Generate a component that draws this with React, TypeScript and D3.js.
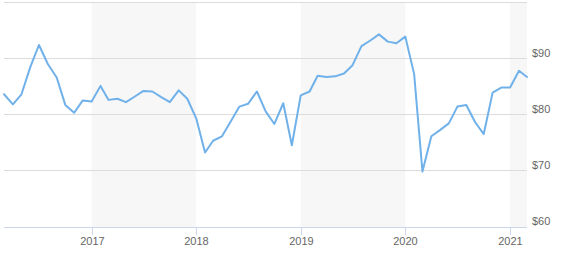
import React from "react";
import * as d3 from "d3";

// Monthly closing prices, March 2016 – March 2021
const startYear = 2016;
const startMonth = 2; // March (0-based)
const prices = [
  83.7, 81.9, 83.7, 88.6, 92.5, 89.1, 86.7, 81.8, 80.4, 82.6,
  82.4, 85.2, 82.7, 82.9, 82.3, 83.3, 84.3, 84.2, 83.2, 82.3, 84.4, 82.9,
  79.4, 73.3, 75.4, 76.2, 78.8, 81.5, 82.0, 84.2, 80.6, 78.4, 82.1, 74.6,
  83.5, 84.2, 87.0, 86.8, 86.9, 87.4, 88.9, 92.3, 93.3, 94.4, 93.1, 92.8,
  94.0, 87.3, 69.9, 76.2, 77.3, 78.5, 81.5, 81.8, 78.7, 76.6, 84.0, 84.9,
  84.9, 87.9, 86.8,
];
const yearTicks = [2017, 2018, 2019, 2020, 2021];
const priceTicks = [60, 70, 80, 90, 100];
const shadedYears = [2017, 2019, 2021];

const W = 564;
const H = 260;
const left = 4;
const right = 527;
const top = 3;
const bottom = 227;

export default function App() {
  const dates = prices.map((_, i) => new Date(startYear, startMonth + i, 1));
  const x = d3
    .scaleTime()
    .domain([dates[0], dates[dates.length - 1]])
    .range([left, right]);
  const y = d3.scaleLinear().domain([60, 100]).range([bottom, top]);
  const line = d3
    .line<number>()
    .x((_, i) => x(dates[i]))
    .y((d) => y(d));

  const font = "'Liberation Sans', Arial, sans-serif";

  return (
    <svg
      width={W}
      height={H}
      style={{ position: "absolute", left: 0, top: 0, display: "block" }}
    >
      <rect x={0} y={0} width={W} height={H} fill="#ffffff" />
      {shadedYears.map((yr) => {
        const x0 = x(new Date(yr, 0, 1));
        const x1 = Math.min(right, x(new Date(yr + 1, 0, 1)));
        return (
          <rect
            key={yr}
            x={x0}
            y={top - 1}
            width={x1 - x0}
            height={bottom - top + 1}
            fill="#f7f7f7"
          />
        );
      })}
      {priceTicks
        .filter((v) => v > 60)
        .map((v) => (
          <line
            key={v}
            x1={left}
            x2={right}
            y1={Math.round(y(v)) - 0.5}
            y2={Math.round(y(v)) - 0.5}
            stroke="#dcdcdc"
            strokeWidth={1}
          />
        ))}
      <line
        x1={left}
        x2={right}
        y1={bottom + 0.5}
        y2={bottom + 0.5}
        stroke="#ccd6eb"
        strokeWidth={1}
      />
      {yearTicks.map((yr) => {
        const tx = Math.round(x(new Date(yr, 0, 1))) + 0.5;
        return (
          <g key={yr}>
            <line
              x1={tx}
              x2={tx}
              y1={bottom}
              y2={bottom + 8}
              stroke="#ccd6eb"
              strokeWidth={1}
            />
            <text
              x={tx}
              y={245}
              textAnchor="middle"
              fontFamily={font}
              fontSize={11}
              fill="#666666"
            >
              {yr}
            </text>
          </g>
        );
      })}
      {priceTicks
        .filter((v) => v < 100)
        .map((v) => (
          <text
            key={v}
            x={532}
            y={y(v) - 2}
            fontFamily={font}
            fontSize={11}
            fill="#666666"
          >
            {`$${v}`}
          </text>
        ))}
      <path
        d={line(prices) ?? ""}
        fill="none"
        stroke="#71b1ea"
        strokeWidth={2}
        strokeLinejoin="round"
        strokeLinecap="round"
      />
    </svg>
  );
}
